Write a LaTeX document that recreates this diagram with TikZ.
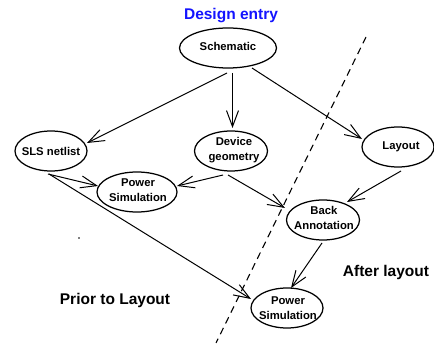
\documentclass[tikz,border=0pt]{standalone}
\usepackage{fontspec}
\setmainfont{Liberation Sans}
\usetikzlibrary{shapes.geometric,arrows.meta,calc}

\tikzset{
  oval/.style={ellipse, draw, line width=1.25pt, inner sep=0pt,
    minimum width=#1, minimum height=40pt},
  ovaltext/.style={align=center, inner sep=0pt,
    font=\fontsize{11.3}{14.5}\selectfont\bfseries},
  conn/.style={line width=1pt,
    -{Straight Barb[length=16pt,width=12pt,line width=1pt]}},
  phase/.style={font=\fontsize{15.5}{18}\selectfont\bfseries},
  cutline/.style={line width=1.1pt, dash pattern=on 7pt off 5pt}
}

\begin{document}
\begin{tikzpicture}[x=1pt,y=-1pt]
  \useasboundingbox (0,0) rectangle (434,347);

  % title
  \node[phase, text={rgb,255:red,20;green,20;blue,255}] (title) at (231,16) {Design entry};

  % design steps
  \node[oval=97pt] (sch) at (228,48) {};
  \node[ovaltext] (schT) at (228,46) {Schematic};

  \node[oval=72pt] (sls) at (51,151) {};
  \node[ovaltext] (slsT) at (51,151) {SLS netlist};

  \node[oval=73pt] (dev) at (231,151) {};
  \node[ovaltext] (devT) at (234,150) {Device\\geometry};

  \node[oval=72pt] (lay) at (398,147) {};
  \node[ovaltext] (layT) at (401,147) {Layout};

  \node[oval=80pt] (ps1) at (137,192) {};
  \node[ovaltext] (ps1T) at (138,190) {Power\\Simulation};

  \node[oval=73pt] (ba) at (323,220) {};
  \node[ovaltext] (baT) at (324,218) {Back\\Annotation};

  \node[oval=72pt] (ps2) at (287,308) {};
  \node[ovaltext] (ps2T) at (288,308) {Power\\Simulation};

  % boundary between the two phases
  \coordinate (cutA) at (366,37);
  \coordinate (cutB) at (216,343);
  \draw[cutline] (cutA) -- (cutB);

  \node[phase] (after) at (386,272) {After layout};
  \node[phase] (prior) at (115,300) {Prior to Layout};

  % small speck
  \coordinate (speck) at (78,237);
  \fill[gray] (speck) rectangle +(2,2);

  % flow
  \draw[conn] ($(sch)+(-1,25)$) -- ($(sls)+(36,-8)$);
  \draw[conn] ($(sch)+(4.5,25)$) -- ($(dev)+(1.5,-23)$);
  \draw[conn] ($(sch)+(24,20)$) -- ($(lay)+(-36,-8)$);
  \draw[conn] ($(sls)+(-3,23)$) -- ($(ps1)+(-39,-6)$);
  \draw[conn] ($(sls)+(-2,23)$) -- ($(ps2)+(-36,-9)$);
  \draw[conn] ($(dev)+(-8,24)$) -- ($(ps1)+(40,-6)$);
  \draw[conn] ($(dev)+(-3,24)$) -- ($(ba)+(-38,-12)$);
  \draw[conn] ($(lay)+(3,24)$) -- ($(ba)+(24,-18)$);
  \draw[conn] ($(ba)+(-1,23)$) -- ($(ps2)+(4,-20)$);
\end{tikzpicture}
\end{document}
